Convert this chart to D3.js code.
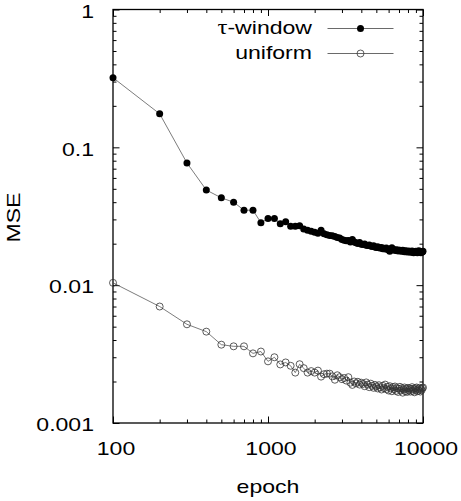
<!DOCTYPE html>
<html>
<head>
<meta charset="utf-8">
<script src="https://cdn.jsdelivr.net/npm/d3@7"></script>
<style>
  html, body { margin: 0; padding: 0; background: #fff; }
  text { font-family: "Liberation Sans", Arial, sans-serif; fill: #000; }
</style>
</head>
<body>
<div id="container"></div>
<script>
const epochs = [
  100, 200, 300, 400, 500, 600, 700, 800, 900, 1000,
  1100, 1200, 1300, 1400, 1500, 1600, 1700, 1800, 1900, 2000,
  2100, 2200, 2300, 2400, 2500, 2600, 2700, 2800, 2900, 3000,
  3100, 3200, 3300, 3400, 3500, 3600, 3700, 3800, 3900, 4000,
  4100, 4200, 4300, 4400, 4500, 4600, 4700, 4800, 4900, 5000,
  5100, 5200, 5300, 5400, 5500, 5600, 5700, 5800, 5900, 6000,
  6100, 6200, 6300, 6400, 6500, 6600, 6700, 6800, 6900, 7000,
  7100, 7200, 7300, 7400, 7500, 7600, 7700, 7800, 7900, 8000,
  8100, 8200, 8300, 8400, 8500, 8600, 8700, 8800, 8900, 9000,
  9100, 9200, 9300, 9400, 9500, 9600, 9700, 9800, 9900, 10000
]

const tauWindow = [
  0.32, 0.175, 0.077, 0.049, 0.043, 0.040, 0.035, 0.035, 0.0284, 0.0304,
  0.0305, 0.0279, 0.0289, 0.0268, 0.0268, 0.0270, 0.0256, 0.0250, 0.0246, 0.0242,
  0.0238, 0.0250, 0.0236, 0.0232, 0.0229, 0.0228, 0.0225, 0.0222, 0.0220, 0.0214,
  0.0212, 0.0210, 0.0211, 0.0206, 0.0214, 0.0206, 0.0203, 0.0201, 0.0204, 0.0198,
  0.0197, 0.0199, 0.0195, 0.0194, 0.0196, 0.0192, 0.0191, 0.0193, 0.0189, 0.0188,
  0.0190, 0.0187, 0.0186, 0.0188, 0.0184, 0.0185, 0.0183, 0.0186, 0.0182, 0.0181,
  0.0176, 0.0183, 0.0187, 0.0182, 0.0180, 0.0179, 0.0181, 0.0178, 0.0180, 0.0177,
  0.0179, 0.0178, 0.0176, 0.0179, 0.0177, 0.0175, 0.0178, 0.0176, 0.0174, 0.0177,
  0.0175, 0.0176, 0.0173, 0.0175, 0.0177, 0.0174, 0.0172, 0.0175, 0.0173, 0.0176,
  0.0174, 0.0172, 0.0175, 0.0178, 0.0173, 0.0174, 0.0172, 0.0175, 0.0174, 0.0176
]

const uniform = [
  0.0104, 0.0070, 0.0052, 0.0046, 0.0037, 0.0036, 0.0036, 0.0032, 0.0033, 0.0028,
  0.0030, 0.00266, 0.00275, 0.0026, 0.00232, 0.00267, 0.0025, 0.00232, 0.00238, 0.00232,
  0.00240, 0.00217, 0.00226, 0.00228, 0.00228, 0.00218, 0.00206, 0.00222, 0.00215, 0.00208,
  0.00212, 0.00203, 0.00215, 0.00196, 0.00189, 0.00200, 0.00194, 0.00199, 0.00190, 0.00196,
  0.00192, 0.00185, 0.00197, 0.00190, 0.00182, 0.00193, 0.00186, 0.00180, 0.00189, 0.00184,
  0.00178, 0.00188, 0.00181, 0.00175, 0.00186, 0.00179, 0.00190, 0.00176, 0.00183, 0.00172,
  0.00185, 0.00178, 0.00170, 0.00182, 0.00176, 0.00184, 0.00171, 0.00179, 0.00168, 0.00177,
  0.00183, 0.00172, 0.00179, 0.00166, 0.00175, 0.00181, 0.00170, 0.00177, 0.00168, 0.00180,
  0.00173, 0.00178, 0.00169, 0.00176, 0.00182, 0.00171, 0.00177, 0.00167, 0.00179, 0.00174,
  0.00181, 0.00170, 0.00176, 0.00172, 0.00180, 0.00169, 0.00177, 0.00173, 0.00179, 0.00181
]

const xMajorTicks = [100, 1000, 10000]
const xTickLabels = ['100', '1000', '10000']
const yMajorTicks = [0.001, 0.01, 0.1, 1]
const yTickLabels = ['0.001', '0.01', '0.1', '1']

const width = 461
const height = 501
const margin = { top: 9.5, right: 38, bottom: 78, left: 113 }
const innerW = width - margin.left - margin.right
const innerH = height - margin.top - margin.bottom

// gnuplot-like wide sans text
const fontSize = 18.6
const stretch = 1.24

const svg = d3.select('#container')
  .append('svg')
  .attr('width', width)
  .attr('height', height)

const g = svg.append('g')
  .attr('transform', `translate(${margin.left},${margin.top})`)

const xScale = d3.scaleLog().domain([100, 10000]).range([0, innerW])
const yScale = d3.scaleLog().domain([0.001, 1]).range([innerH, 0])

const xMinor = xScale.ticks().filter(d => !xMajorTicks.includes(d))
const yMinor = yScale.ticks().filter(d => !yMajorTicks.some(m => Math.abs(m - d) < 1e-12))

const major = 6.5
const minor = 3.5

function addAxis (axis, transform) {
  const a = g.append('g').attr('transform', transform).call(axis.tickFormat(''))
  a.select('.domain').remove()
  a.selectAll('line').attr('stroke', '#000').attr('stroke-width', 1)
  return a
}

addAxis(d3.axisBottom(xScale).tickValues(xMajorTicks).tickSize(-major), `translate(0,${innerH})`)
addAxis(d3.axisBottom(xScale).tickValues(xMinor).tickSize(-minor), `translate(0,${innerH})`)
addAxis(d3.axisTop(xScale).tickValues(xMajorTicks).tickSize(-major), 'translate(0,0)')
addAxis(d3.axisTop(xScale).tickValues(xMinor).tickSize(-minor), 'translate(0,0)')
addAxis(d3.axisLeft(yScale).tickValues(yMajorTicks).tickSize(-major), 'translate(0,0)')
addAxis(d3.axisLeft(yScale).tickValues(yMinor).tickSize(-minor), 'translate(0,0)')
addAxis(d3.axisRight(yScale).tickValues(yMajorTicks).tickSize(-major), `translate(${innerW},0)`)
addAxis(d3.axisRight(yScale).tickValues(yMinor).tickSize(-minor), `translate(${innerW},0)`)

// tick labels
g.selectAll('.xlab').data(xMajorTicks).enter().append('text')
  .attr('class', 'xlab')
  .attr('transform', (d, i) => `translate(${xScale(d) + 3},${innerH + 32}) scale(${stretch},1)`)
  .attr('text-anchor', 'middle').attr('font-size', fontSize)
  .text((d, i) => xTickLabels[i])

g.selectAll('.ylab').data(yMajorTicks).enter().append('text')
  .attr('class', 'ylab')
  .attr('transform', d => `translate(-19,${yScale(d) + 8.3}) scale(${stretch},1)`)
  .attr('text-anchor', 'end').attr('font-size', fontSize)
  .text((d, i) => yTickLabels[i])

g.append('rect')
  .attr('width', innerW)
  .attr('height', innerH)
  .attr('fill', 'none')
  .attr('stroke', '#000')
  .attr('stroke-width', 1.3)

const line = d3.line()
  .x(d => xScale(d[0]))
  .y(d => yScale(d[1]))

const tauData = epochs.map((e, i) => [e, tauWindow[i]])
const uniData = epochs.map((e, i) => [e, uniform[i]])

g.append('path').datum(tauData)
  .attr('fill', 'none').attr('stroke', '#444').attr('stroke-width', 0.7)
  .attr('d', line)
g.selectAll('.tau').data(tauData).enter().append('circle')
  .attr('class', 'tau')
  .attr('cx', d => xScale(d[0])).attr('cy', d => yScale(d[1]))
  .attr('r', 3.5).attr('fill', '#000')

g.append('path').datum(uniData)
  .attr('fill', 'none').attr('stroke', '#444').attr('stroke-width', 0.7)
  .attr('d', line)
g.selectAll('.uni').data(uniData).enter().append('circle')
  .attr('class', 'uni')
  .attr('cx', d => xScale(d[0])).attr('cy', d => yScale(d[1]))
  .attr('r', 3.5).attr('fill', 'none').attr('stroke', '#333').attr('stroke-width', 0.8)

// legend
const legend = svg.append('g')
const legendRows = [
  { label: 'window', tau: true, y: 28.5, filled: true },
  { label: 'uniform', tau: false, y: 53.5, filled: false }
]
legendRows.forEach(r => {
  const t = legend.append('text')
    .attr('transform', `translate(312,${r.y + 5.6}) scale(${stretch},1)`)
    .attr('text-anchor', 'end').attr('font-size', fontSize)
  if (r.tau) {
    t.append('tspan').attr('font-family', '"Liberation Serif", serif').attr('font-size', 20).text('τ')
    t.append('tspan').text('-' + r.label)
  } else {
    t.text(r.label)
  }
  legend.append('line')
    .attr('x1', 327.5).attr('x2', 393.5).attr('y1', r.y).attr('y2', r.y)
    .attr('stroke', '#444').attr('stroke-width', 0.8)
  legend.append('circle')
    .attr('cx', 360.5).attr('cy', r.y).attr('r', 3.5)
    .attr('fill', r.filled ? '#000' : 'none')
    .attr('stroke', r.filled ? 'none' : '#333')
    .attr('stroke-width', 0.8)
})

// axis titles
svg.append('text')
  .attr('transform', `translate(268,493) scale(${stretch},1)`)
  .attr('text-anchor', 'middle').attr('font-size', fontSize)
  .text('epoch')
svg.append('text')
  .attr('transform', `translate(19.5,217.5) rotate(-90) scale(${stretch},1)`)
  .attr('text-anchor', 'middle').attr('font-size', fontSize)
  .text('MSE')
</script>
</body>
</html>
